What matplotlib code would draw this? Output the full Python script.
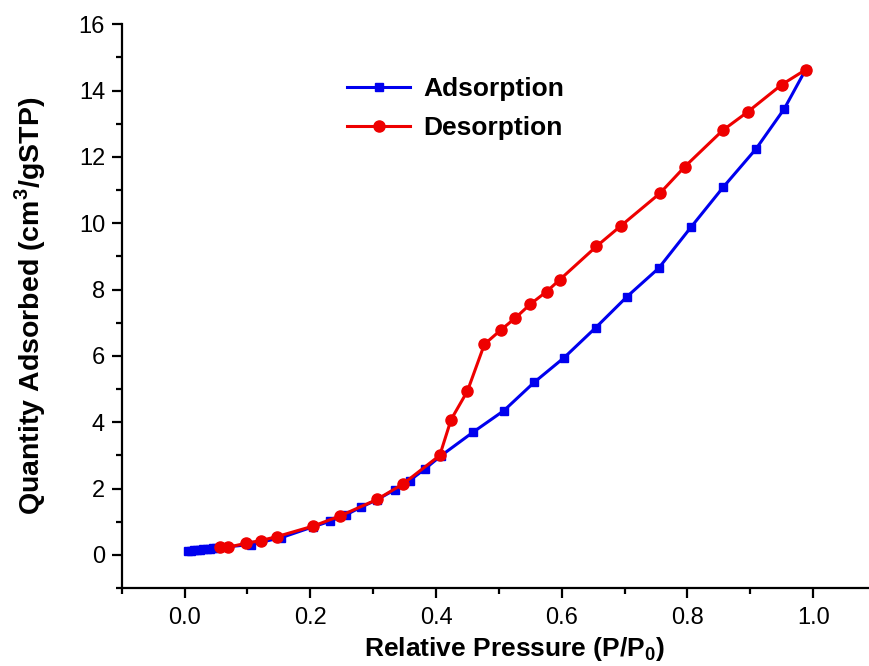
import numpy as np
import matplotlib.pyplot as plt
from matplotlib.ticker import MultipleLocator

ads_p = [0.005, 0.010, 0.015, 0.020, 0.025, 0.030, 0.035, 0.040, 0.045, 0.050,
         0.105, 0.154, 0.205, 0.231, 0.257, 0.281, 0.306, 0.334, 0.358, 0.383,
         0.408, 0.459, 0.508, 0.556, 0.604, 0.654, 0.704, 0.754, 0.806, 0.857,
         0.909, 0.954, 0.988]
ads_q = [0.12, 0.13, 0.14, 0.15, 0.16, 0.17, 0.18, 0.19, 0.20, 0.21,
         0.31, 0.52, 0.85, 1.01, 1.21, 1.44, 1.66, 1.96, 2.24, 2.60,
         2.99, 3.70, 4.35, 5.20, 5.95, 6.85, 7.79, 8.64, 9.89, 11.09,
         12.24, 13.45, 14.63]

des_p = [0.988, 0.950, 0.896, 0.856, 0.796, 0.756, 0.694, 0.655, 0.597, 0.576,
         0.550, 0.526, 0.503, 0.477, 0.450, 0.424, 0.406, 0.347, 0.306, 0.247,
         0.205, 0.147, 0.121, 0.098, 0.069, 0.056]
des_q = [14.63, 14.18, 13.36, 12.80, 11.71, 10.90, 9.92, 9.30, 8.30, 7.94,
         7.56, 7.14, 6.78, 6.35, 4.94, 4.08, 3.00, 2.13, 1.67, 1.17,
         0.87, 0.55, 0.43, 0.35, 0.23, 0.23]

#----Figure----#
plt.rcParams['font.family'] = ['Liberation Sans', 'DejaVu Sans']
fig = plt.figure(figsize=(8.7, 6.66), dpi=100)
ax = fig.add_axes([0.1399, 0.1171, 0.8670, 0.8464])

ax.plot(ads_p, ads_q, color='#0000ee', lw=2.2, marker='s', ms=6,
        label='Adsorption', zorder=3)
ax.plot(des_p, des_q, color='#ee0000', lw=2.2, marker='o', ms=8,
        label='Desorption', zorder=4)

ax.set_xlim(-0.1, 1.1)
ax.set_ylim(-1, 16)
ax.xaxis.set_major_locator(MultipleLocator(0.2))
ax.xaxis.set_minor_locator(MultipleLocator(0.1))
ax.yaxis.set_major_locator(MultipleLocator(2))
ax.yaxis.set_minor_locator(MultipleLocator(1))
ax.set_xticks([0.0, 0.2, 0.4, 0.6, 0.8, 1.0])
ax.set_xticklabels(['0.0', '0.2', '0.4', '0.6', '0.8', '1.0'])

for s in ['top', 'right']:
    ax.spines[s].set_visible(False)
for s in ['left', 'bottom']:
    ax.spines[s].set_linewidth(1.6)

ax.tick_params(which='major', direction='out', length=7, width=1.6, labelsize=17)
ax.tick_params(which='minor', direction='out', length=4, width=1.6)
ax.tick_params(axis='x', pad=7)
ax.tick_params(axis='y', pad=5)

ax.set_xlabel('Relative Pressure (P/P$_\\mathregular{0}$)', fontsize=19, fontweight='bold')
ax.xaxis.set_label_coords(0.521, -0.083)
ax.set_ylabel('Quantity Adsorbed (cm$^\\mathregular{3}$/gSTP)', fontsize=20.5,
              fontweight='bold', labelpad=22)

leg = ax.legend(loc='upper left', bbox_to_anchor=(347 / 870, 1 - 77 / 666),
                bbox_transform=fig.transFigure, frameon=False,
                prop={'weight': 'bold', 'size': 19}, handlelength=2.4,
                handletextpad=0.5, labelspacing=0.57, borderpad=0, borderaxespad=0)

fig.savefig('out.png', dpi=100)
